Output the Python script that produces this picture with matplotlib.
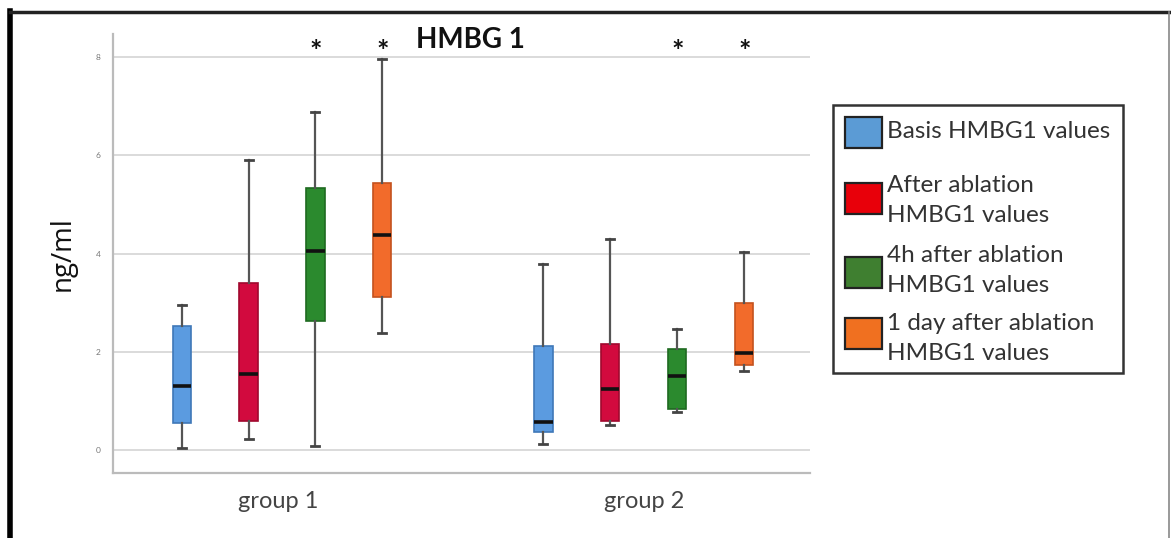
import matplotlib
matplotlib.use("Agg")
import matplotlib.pyplot as plt
from matplotlib.patches import Rectangle
from matplotlib.lines import Line2D

# ---- data ----
groups = ["group 1", "group 2"]
series = ["Basis HMBG1 values", "After ablation\nHMBG1 values",
          "4h after ablation\nHMBG1 values", "1 day after ablation\nHMBG1 values"]
# per group, per series: [whislo, q1, med, q3, whishi]
g1_stats = [
    [0.04, 0.56, 1.31, 2.53, 2.96],
    [0.23, 0.59, 1.56, 3.40, 5.91],
    [0.08, 2.64, 4.05, 5.33, 6.89],
    [2.39, 3.12, 4.39, 5.44, 7.96],
]
g2_stats = [
    [0.14, 0.37, 0.58, 2.12, 3.79],
    [0.52, 0.60, 1.24, 2.16, 4.31],
    [0.79, 0.84, 1.51, 2.07, 2.46],
    [1.62, 1.74, 1.99, 2.99, 4.04],
]
significant = [[False, False, True, True], [False, False, True, True]]
yticks = [0, 2, 4, 6, 8]

box_colors = ["#5b9be0", "#d20a3e", "#2b8a2e", "#f26b2b"]
edge_colors = ["#3f78b8", "#a0082e", "#1e6a20", "#c4521e"]
legend_colors = ["#5b9bd5", "#e8000a", "#3f7f30", "#f07020"]

W, H = 1171, 538
fig = plt.figure(figsize=(W / 100, H / 100), dpi=100)
plt.rcParams['font.family'] = ['Lato', 'DejaVu Sans']

ax = fig.add_axes([113 / W, 1 - 473 / H, (810 - 113) / W, (473 - 34) / H])

spacing = 0.185
offsets = [-1.5 * spacing, -0.5 * spacing, 0.5 * spacing, 1.5 * spacing]
all_stats = [g1_stats, g2_stats]

for gi, gstats in enumerate(all_stats):
    for si, s in enumerate(gstats):
        st = dict(whislo=s[0], q1=s[1], med=s[2], q3=s[3], whishi=s[4], fliers=[])
        pos = gi + offsets[si]
        ax.bxp([st], positions=[pos], widths=0.05, patch_artist=True, showfliers=False,
               boxprops=dict(facecolor=box_colors[si], edgecolor=edge_colors[si], linewidth=1.2),
               medianprops=dict(color="#111111", linewidth=2.6),
               whiskerprops=dict(color="#555555", linewidth=1.6),
               capprops=dict(color="#444444", linewidth=2.0),
               capwidths=0.022, zorder=3)
        if significant[gi][si]:
            ax.text(pos, 8.1, "*", ha="center", va="center", fontsize=21,
                    fontweight="bold", color="#111111")

ax.set_xlim(-0.467, 1.459)
ax.set_ylim(-0.46, 8.47)
ax.set_yticks(yticks)
ax.set_yticklabels([str(v) for v in yticks], fontsize=6, color="#777777")
ax.tick_params(axis="y", length=0, pad=9)
ax.set_xticks([-0.01, 1.0])
ax.set_xticklabels(groups, fontsize=17, color="#444444")
ax.tick_params(axis="x", length=0, pad=13)
ax.grid(axis="y", color="#d4d4d4", linewidth=1.2, zorder=0)
ax.set_axisbelow(True)
for sp in ["top", "right"]:
    ax.spines[sp].set_visible(False)
for sp in ["left", "bottom"]:
    ax.spines[sp].set_color("#bbbbbb")
    ax.spines[sp].set_linewidth(1.6)

ax.set_ylabel("ng/ml", fontsize=20, color="#111111", family=["Open Sans", "DejaVu Sans"], labelpad=14)

fig.text(470 / W, 1 - 40 / H, "HMBG 1", ha="center", va="center", fontsize=20,
         fontweight="bold", color="#111111")

# ---- legend (drawn manually in figure pixels) ----
def fx(px):
    return px / W

def fy(py):
    return 1 - py / H

fig.add_artist(Rectangle((fx(833), fy(373)), fx(1123) - fx(833), fy(105) - fy(373),
                         transform=fig.transFigure, facecolor="white",
                         edgecolor="#333333", linewidth=1.8))
patch_tops = [117, 183, 257, 318]
line_y = [[132], [186, 215], [255, 285], [323, 353]]
for i, lab in enumerate(series):
    fig.add_artist(Rectangle((fx(845), fy(patch_tops[i] + 31)), fx(882) - fx(845),
                             fy(patch_tops[i]) - fy(patch_tops[i] + 31),
                             transform=fig.transFigure, facecolor=legend_colors[i],
                             edgecolor="#222222", linewidth=1.6))
    for ln, yy in zip(lab.split("\n"), line_y[i]):
        fig.text(fx(887), fy(yy), ln, ha="left", va="center", fontsize=17.5,
                 color="#333333")

# figure border
fig.add_artist(Line2D([10 / W, 10 / W], [0, 1 - 11 / H], color="black", linewidth=4,
                      transform=fig.transFigure))
fig.add_artist(Line2D([10 / W, 1169 / W], [1 - 12 / H, 1 - 12 / H], color="#222222", linewidth=2.5,
                      transform=fig.transFigure))
fig.add_artist(Line2D([1169 / W, 1169 / W], [0, 1 - 12 / H], color="#888888", linewidth=1.2,
                      transform=fig.transFigure))

fig.savefig("out.png", dpi=100)
